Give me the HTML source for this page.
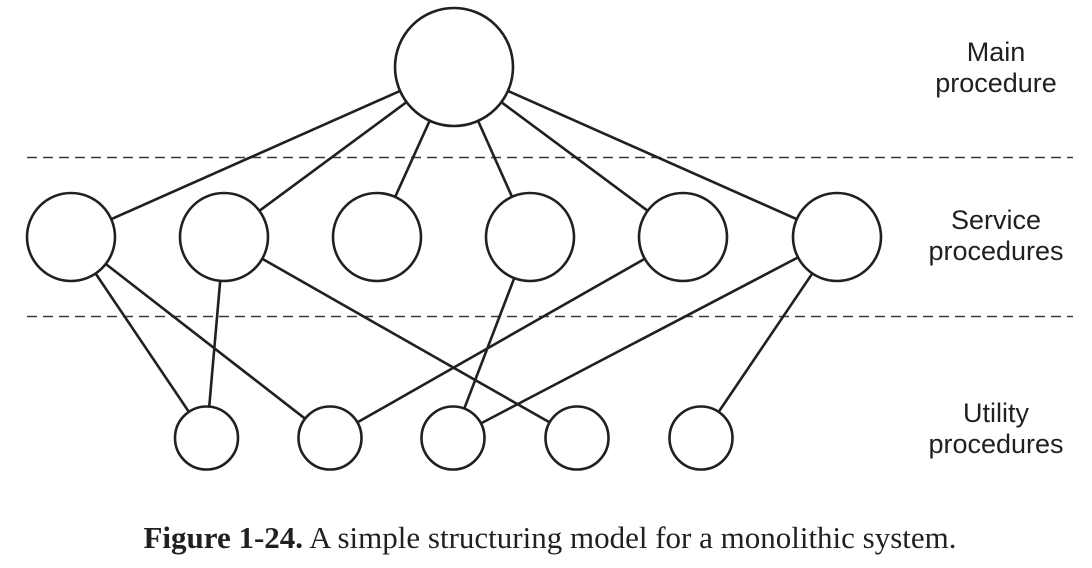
<!DOCTYPE html>
<html><head><meta charset="utf-8"><style>
html,body{margin:0;padding:0;background:#fff;}
svg{display:block;}
</style></head><body>
<svg id="diagram" width="1092" height="568" viewBox="0 0 1092 568" xmlns="http://www.w3.org/2000/svg">
<line x1="27" y1="157.5" x2="1073" y2="157.5" stroke="#3a3a3a" stroke-width="1.6" stroke-dasharray="10,6"/>
<line x1="27" y1="316.5" x2="1073" y2="316.5" stroke="#3a3a3a" stroke-width="1.6" stroke-dasharray="10,6"/>
<g id="edges"></g>
<g id="nodes"></g>
<g font-family="'Liberation Sans', sans-serif" font-size="27" fill="#231f20" text-anchor="middle">
<text x="996" y="61">Main</text>
<text x="996" y="92">procedure</text>
<text x="996" y="229">Service</text>
<text x="996" y="260">procedures</text>
<text x="996" y="422">Utility</text>
<text x="996" y="453">procedures</text>
</g>
<text x="550" y="548" text-anchor="middle" font-family="'Liberation Serif', serif" font-size="31" fill="#231f20"><tspan font-weight="bold">Figure 1-24.</tspan>  A simple structuring model for a monolithic system.</text>
</svg>
<script>
const nodeIds = ["M","S1","S2","S3","S4","S5","S6","U1","U2","U3","U4","U5"];
const nodeX = [454,71,224,377,530,683,837,206.5,330,453,577,701];
const nodeY = [67,237,237,237,237,237,237,438,438,438,438,438];
const nodeR = [59,44,44,44,44,44,44,31.5,31.5,31.5,31.5,31.5];
const edgeFrom = ["M","M","M","M","M","M","S1","S1","S2","S2","S4","S5","S6","S6"];
const edgeTo = ["S1","S2","S3","S4","S5","S6","U1","U2","U1","U4","U3","U2","U3","U5"];
const NS="http://www.w3.org/2000/svg";
const eg=document.getElementById('edges'), ng=document.getElementById('nodes');
function idx(id){return nodeIds.indexOf(id);}
edgeFrom.forEach((f,k)=>{
  const a=idx(f), b=idx(edgeTo[k]);
  const dx=nodeX[b]-nodeX[a], dy=nodeY[b]-nodeY[a], d=Math.hypot(dx,dy);
  const l=document.createElementNS(NS,'line');
  l.setAttribute('x1',nodeX[a]+dx/d*nodeR[a]);
  l.setAttribute('y1',nodeY[a]+dy/d*nodeR[a]);
  l.setAttribute('x2',nodeX[b]-dx/d*nodeR[b]);
  l.setAttribute('y2',nodeY[b]-dy/d*nodeR[b]);
  l.setAttribute('stroke','#231f20');l.setAttribute('stroke-width','2.6');
  
  
  eg.appendChild(l);
});
nodeIds.forEach((id,i)=>{
  const c=document.createElementNS(NS,'circle');
  c.setAttribute('cx',nodeX[i]);c.setAttribute('cy',nodeY[i]);c.setAttribute('r',nodeR[i]);
  c.setAttribute('fill','#fff');c.setAttribute('stroke','#231f20');c.setAttribute('stroke-width','2.6');
  
  
  ng.appendChild(c);
});
</script>
</body></html>
